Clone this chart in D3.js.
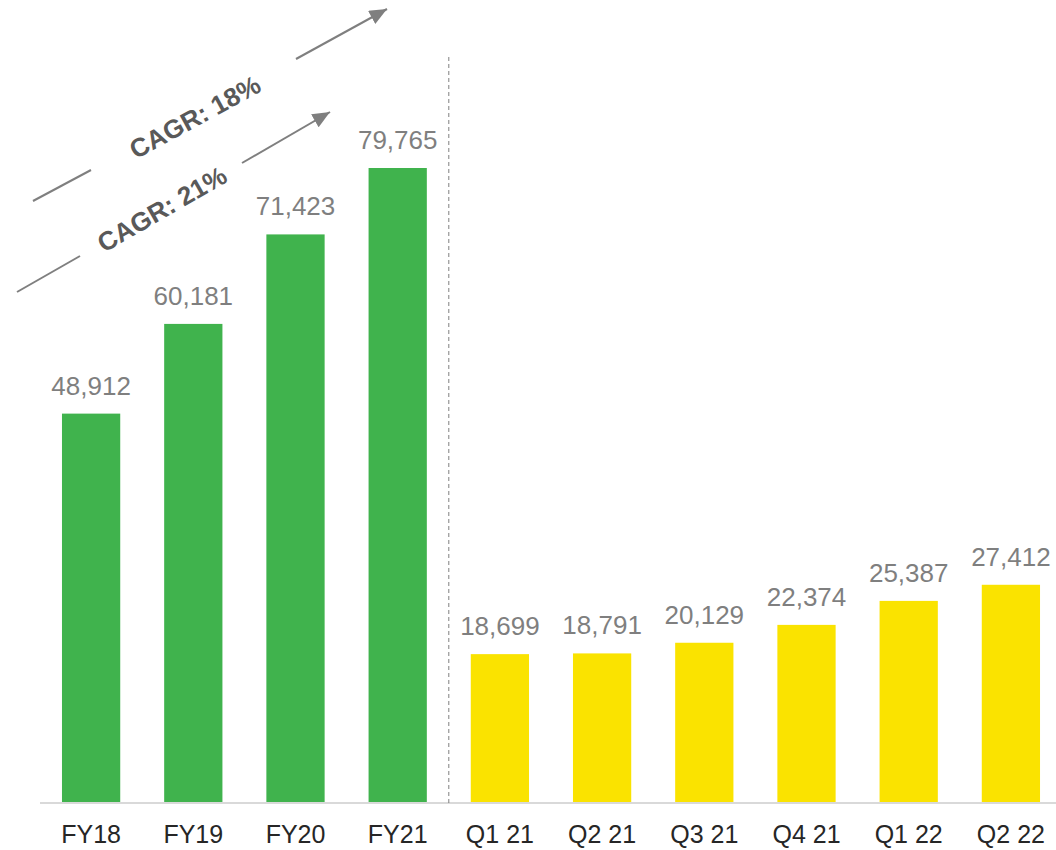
<!DOCTYPE html>
<html>
<head>
<meta charset="utf-8">
<script src="https://cdn.jsdelivr.net/npm/d3@7"></script>
<style>
  body { margin: 0; background: #fff; }
  svg { display: block; font-family: Arial, "Liberation Sans", sans-serif; }
</style>
</head>
<body>
<div class="plot"></div>
<script>
var categories = ["FY18", "FY19", "FY20", "FY21", "Q1 21", "Q2 21", "Q3 21", "Q4 21", "Q1 22", "Q2 22"];
var values = [48912, 60181, 71423, 79765, 18699, 18791, 20129, 22374, 25387, 27412];
var periodType = ["year", "year", "year", "year", "quarter", "quarter", "quarter", "quarter", "quarter", "quarter"];
var cagrLabels = ["CAGR: 18%", "CAGR: 21%"];

var width = 1056,
    height = 850,
    baseY = 803;

var colors = { year: "#40b34d", quarter: "#fae300" };
var fmt = d3.format(",");

var x = d3.scaleBand()
    .domain(categories)
    .range([40, 1062])
    .paddingInner(0.43)
    .paddingOuter(0.215);

var y = d3.scaleLinear()
    .domain([0, 79765])
    .range([baseY, 168]);

var svg = d3.select(".plot").append("svg")
    .attr("width", width)
    .attr("height", height);

svg.append("defs").append("marker")
    .attr("id", "head")
    .attr("markerUnits", "userSpaceOnUse")
    .attr("viewBox", "0 -6 14 12")
    .attr("refX", 14)
    .attr("refY", 0)
    .attr("markerWidth", 18)
    .attr("markerHeight", 15)
    .attr("orient", "auto")
  .append("path")
    .attr("d", "M0,-6L14,0L0,6Z")
    .attr("fill", "#7f7f7f");

var data = categories.map(function(c, i) {
  return { cat: c, value: values[i], type: periodType[i] };
});

// bars
svg.selectAll(".bar")
    .data(data)
  .enter().append("rect")
    .attr("class", "bar")
    .attr("x", function(d) { return x(d.cat); })
    .attr("width", x.bandwidth())
    .attr("y", function(d) { return y(d.value); })
    .attr("height", function(d) { return baseY - y(d.value); })
    .style("fill", function(d) { return colors[d.type]; });

// value labels
svg.selectAll(".val")
    .data(data)
  .enter().append("text")
    .attr("class", "val")
    .attr("x", function(d) { return x(d.cat) + x.bandwidth() / 2; })
    .attr("y", function(d) { return y(d.value) - 19; })
    .attr("text-anchor", "middle")
    .style("font-size", "26px")
    .style("fill", "#7f7f7f")
    .text(function(d) { return fmt(d.value); });

// x axis
var xAxis = svg.append("g")
    .attr("transform", "translate(0," + baseY + ")")
    .call(d3.axisBottom(x).tickSize(0).tickPadding(22));
xAxis.select(".domain")
    .attr("d", "M40,0H1056")
    .attr("stroke", "#d9d9d9")
    .attr("stroke-width", 2);
xAxis.selectAll("text")
    .style("font-family", "Arial, 'Liberation Sans', sans-serif")
    .style("font-size", "25px")
    .style("fill", "#262626");

// divider between years and quarters
var divX = (x("FY21") + x.bandwidth() + x("Q1 21")) / 2;
svg.append("line")
    .attr("x1", divX).attr("x2", divX)
    .attr("y1", 57).attr("y2", baseY)
    .attr("stroke", "#7f7f7f")
    .attr("stroke-width", 1)
    .attr("stroke-dasharray", "4,3");

// CAGR arrows: two segments with rotated text between
var arrows = [
  { label: cagrLabels[0], a: [33, 201], b: [91, 170], t: [195, 117], c: [296, 59], d: [387, 9] },
  { label: cagrLabels[1], a: [17, 292], b: [80, 256], t: [162, 209], c: [242, 163], d: [330, 112] }
];

arrows.forEach(function(ar) {
  var ang = Math.atan2(ar.d[1] - ar.a[1], ar.d[0] - ar.a[0]) * 180 / Math.PI;
  svg.append("line")
      .attr("x1", ar.a[0]).attr("y1", ar.a[1])
      .attr("x2", ar.b[0]).attr("y2", ar.b[1])
      .attr("stroke", "#7f7f7f").attr("stroke-width", 2);
  svg.append("line")
      .attr("x1", ar.c[0]).attr("y1", ar.c[1])
      .attr("x2", ar.d[0]).attr("y2", ar.d[1])
      .attr("stroke", "#7f7f7f").attr("stroke-width", 2)
      .attr("marker-end", "url(#head)");
  svg.append("text")
      .attr("transform", "translate(" + ar.t[0] + "," + ar.t[1] + ") rotate(" + ang + ")")
      .attr("text-anchor", "middle")
      .attr("dy", "0.35em")
      .style("font-size", "26px")
      .style("font-weight", "bold")
      .style("fill", "#595959")
      .text(ar.label);
});
</script>
</body>
</html>
